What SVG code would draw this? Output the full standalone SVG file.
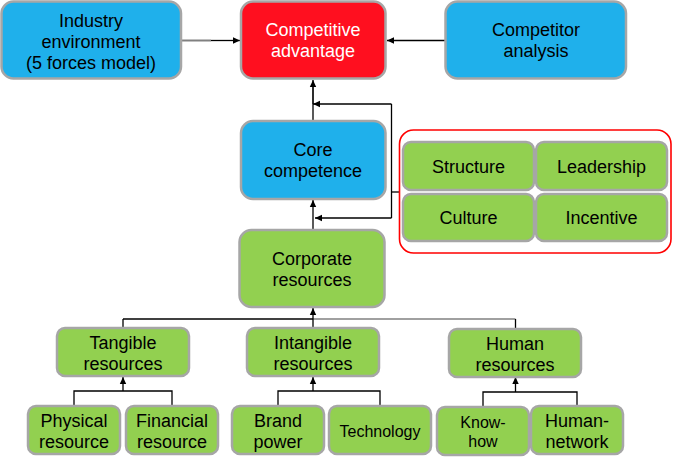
<svg xmlns="http://www.w3.org/2000/svg" width="673" height="463" viewBox="0 0 673 463">
<style>
text{font-family:"Liberation Sans",Arial,sans-serif;font-size:18px;fill:#000;text-anchor:middle}
.blue{fill:#1FB0EB;stroke:#A6A6A6;stroke-width:2.5}
.red{fill:#FF0F1F;stroke:#A6A6A6;stroke-width:2.5}
.green{fill:#92D050;stroke:#A6A6A6;stroke-width:2.5}
.w{fill:#fff}
.c{fill:none;stroke:#000;stroke-width:1.3}
.g{fill:none;stroke:#808080;stroke-width:2}
</style>
<defs>
<marker id="ah" markerUnits="userSpaceOnUse" markerWidth="8" markerHeight="8" refX="7" refY="4" orient="auto">
<path d="M0,0.8 L7,4 L0,7.2 z" fill="#000"/>
</marker>
</defs>
<g id="connectors">
<line class="g" x1="181" y1="40.5" x2="211" y2="40.5"/>
<line class="c" x1="211" y1="40.5" x2="240" y2="40.5" marker-end="url(#ah)"/>
<line class="c" x1="445" y1="40.5" x2="387" y2="40.5" marker-end="url(#ah)"/>
<line class="g" x1="313" y1="104" x2="313" y2="86"/>
<line class="c" x1="313" y1="121" x2="313" y2="80" marker-end="url(#ah)"/>
<polyline class="c" points="400,192 391.5,192"/>
<polyline class="c" points="391.5,104 391.5,218"/>
<line class="c" x1="391.5" y1="104" x2="313" y2="104" marker-end="url(#ah)"/>
<line class="c" x1="391.5" y1="218" x2="315" y2="218" marker-end="url(#ah)"/>
<line class="c" x1="313" y1="230" x2="313" y2="200" marker-end="url(#ah)"/>
<line class="c" x1="123" y1="319" x2="313" y2="319"/>
<line class="g" x1="313" y1="319" x2="515.5" y2="319" style="stroke-width:1.5"/>
<line class="c" x1="123" y1="319" x2="123" y2="328"/>
<line class="c" x1="515.5" y1="319" x2="515.5" y2="329"/>
<line class="c" x1="313" y1="328" x2="313" y2="308" marker-end="url(#ah)"/>
<polyline class="c" points="74,406 74,391 172,391 172,406"/>
<line class="c" x1="123" y1="391" x2="123" y2="377" marker-end="url(#ah)"/>
<polyline class="c" points="278,406 278,391 380,391 380,406"/>
<line class="c" x1="313" y1="391" x2="313" y2="377" marker-end="url(#ah)"/>
<polyline class="c" points="483,407 483,392 577,392 577,406"/>
<line class="c" x1="515.5" y1="392" x2="515.5" y2="377" marker-end="url(#ah)"/>
</g>
<g id="industry">
<rect class="blue" x="1.5" y="1.5" width="179.5" height="77" rx="12"/>
<text x="91" y="27">Industry</text>
<text x="91" y="48">environment</text>
<text x="91" y="69">(5 forces model)</text>
</g>
<g id="competitive">
<rect class="red" x="241" y="1.5" width="144.5" height="77" rx="12"/>
<text class="w" x="313" y="35.5">Competitive</text>
<text class="w" x="313" y="56.5">advantage</text>
</g>
<g id="competitor">
<rect class="blue" x="445.5" y="1.5" width="180.5" height="77" rx="12"/>
<text x="536" y="35.5">Competitor</text>
<text x="536" y="56.5">analysis</text>
</g>
<g id="core">
<rect class="blue" x="241" y="121" width="144.5" height="78" rx="12"/>
<text x="313" y="156">Core</text>
<text x="313" y="177">competence</text>
</g>
<g id="org">
<rect x="399.5" y="130" width="271.5" height="123" rx="14" fill="none" stroke="#FF0000" stroke-width="1.6"/>
</g>
<g id="structure">
<rect class="green" x="403" y="142" width="131" height="48" rx="8"/>
<text x="468.5" y="172.5">Structure</text>
</g>
<g id="leadership">
<rect class="green" x="536" y="142" width="131" height="48" rx="8"/>
<text x="601.5" y="172.5">Leadership</text>
</g>
<g id="culture">
<rect class="green" x="403" y="194" width="131" height="47" rx="8"/>
<text x="468.5" y="224">Culture</text>
</g>
<g id="incentive">
<rect class="green" x="536" y="194" width="131" height="47" rx="8"/>
<text x="601.5" y="224">Incentive</text>
</g>
<g id="corporate">
<rect class="green" x="239.5" y="230" width="145" height="77" rx="12"/>
<text x="312" y="265">Corporate</text>
<text x="312" y="286">resources</text>
</g>
<g id="tangible">
<rect class="green" x="57" y="328" width="132" height="48" rx="8"/>
<text x="123" y="349">Tangible</text>
<text x="123" y="370">resources</text>
</g>
<g id="intangible">
<rect class="green" x="247" y="328" width="132" height="48" rx="8"/>
<text x="313" y="349">Intangible</text>
<text x="313" y="370">resources</text>
</g>
<g id="human">
<rect class="green" x="449" y="329" width="132" height="48" rx="8"/>
<text x="515" y="350">Human</text>
<text x="515" y="371">resources</text>
</g>
<g id="physical">
<rect class="green" x="28" y="406" width="92" height="48" rx="8"/>
<text x="74" y="427">Physical</text>
<text x="74" y="448">resource</text>
</g>
<g id="financial">
<rect class="green" x="126" y="406" width="92" height="48" rx="8"/>
<text x="172" y="427">Financial</text>
<text x="172" y="448">resource</text>
</g>
<g id="brand">
<rect class="green" x="232" y="406" width="92" height="48" rx="8"/>
<text x="278" y="427">Brand</text>
<text x="278" y="448">power</text>
</g>
<g id="technology">
<rect class="green" x="329" y="406" width="102" height="48" rx="8"/>
<text x="380" y="437" style="font-size:16px">Technology</text>
</g>
<g id="knowhow">
<rect class="green" x="437" y="407" width="92" height="48" rx="8"/>
<text x="483" y="428" style="font-size:16px">Know-</text>
<text x="483" y="447" style="font-size:16px">how</text>
</g>
<g id="humannetwork">
<rect class="green" x="531" y="406" width="92" height="48" rx="8"/>
<text x="577" y="427">Human-</text>
<text x="577" y="448">network</text>
</g>
</svg>
